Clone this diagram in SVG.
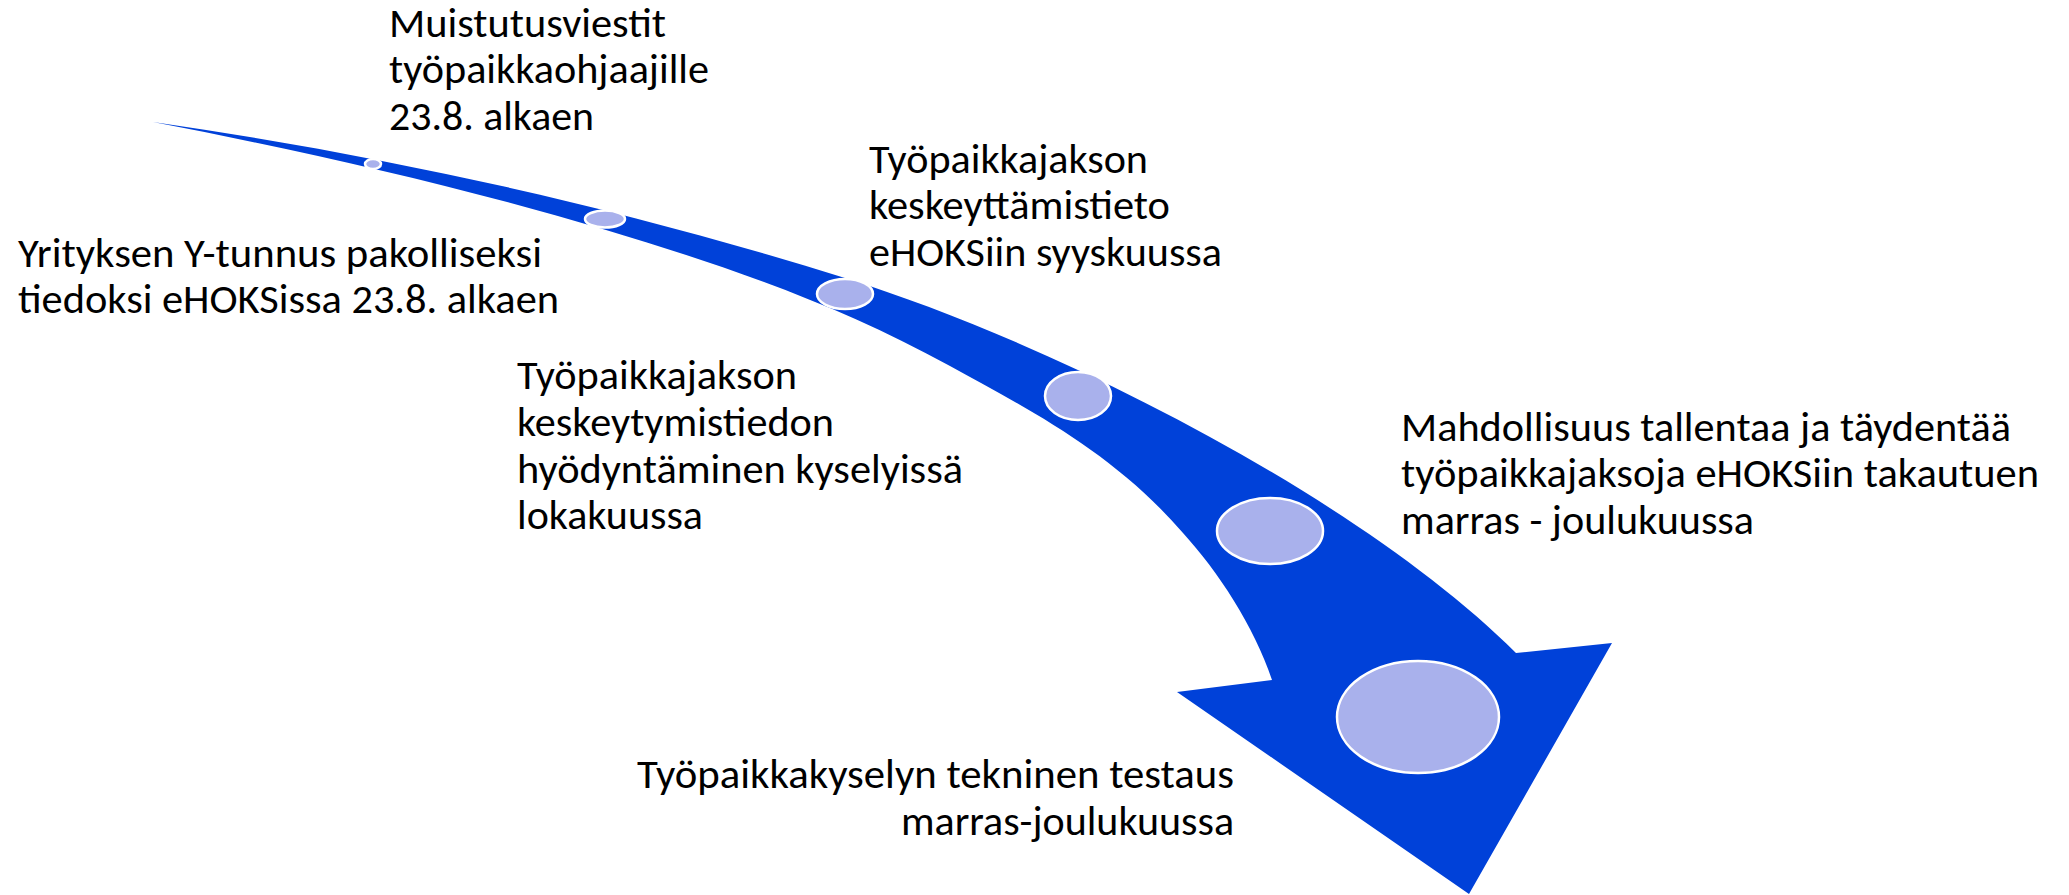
<svg xmlns="http://www.w3.org/2000/svg" width="2069" height="895" viewBox="0 0 2069 895">
<style>
.t{font-family:Carlito,Lato,"Liberation Sans",sans-serif;font-size:40px;fill:#000}
.dot{fill:#A9B1EC;stroke:#fff;stroke-width:2.5}
.band{fill:#0041D9}
</style>
<rect width="2069" height="895" fill="#fff"/>
<g id="arrow">
<path class="band" d="M153,122 C383,155 615,206 845,278 C1065,347 1366,503 1516,653 L1612,643 L1469,894 L1177,692 L1272,680 C1254,626 1218,571.5 1183,533 C1113,452 1028,409 950,366 C835,302.8 721,264.5 606,230 C455,185 304,151 153,122 Z"/>
</g>
<g id="milestones">
<ellipse class="dot" cx="373" cy="164" rx="8" ry="5"/>
<ellipse class="dot" cx="605" cy="219" rx="20" ry="8.5"/>
<ellipse class="dot" cx="845" cy="294" rx="28" ry="15"/>
<ellipse class="dot" cx="1078" cy="396" rx="33" ry="24"/>
<ellipse class="dot" cx="1270" cy="531" rx="53" ry="33"/>
<ellipse class="dot" cx="1418" cy="717" rx="81" ry="56"/>
</g>
<g id="label-muistutus">
<text class="t" x="389" y="37" textLength="277" lengthAdjust="spacingAndGlyphs">Muistutusviestit</text>
<text class="t" x="389" y="83" textLength="320" lengthAdjust="spacingAndGlyphs">työpaikkaohjaajille</text>
<text class="t" x="389" y="130" textLength="205" lengthAdjust="spacingAndGlyphs">23.8. alkaen</text>
</g>
<g id="label-ytunnus">
<text class="t" x="18" y="267" textLength="524" lengthAdjust="spacingAndGlyphs">Yrityksen Y-tunnus pakolliseksi</text>
<text class="t" x="18" y="313" textLength="541" lengthAdjust="spacingAndGlyphs">tiedoksi eHOKSissa 23.8. alkaen</text>
</g>
<g id="label-keskeyttamis">
<text class="t" x="869" y="173" textLength="279" lengthAdjust="spacingAndGlyphs">Työpaikkajakson</text>
<text class="t" x="869" y="219" textLength="301" lengthAdjust="spacingAndGlyphs">keskeyttämistieto</text>
<text class="t" x="869" y="266" textLength="353" lengthAdjust="spacingAndGlyphs">eHOKSiin syyskuussa</text>
</g>
<g id="label-keskeytymis">
<text class="t" x="517" y="389" textLength="280" lengthAdjust="spacingAndGlyphs">Työpaikkajakson</text>
<text class="t" x="517" y="436" textLength="317" lengthAdjust="spacingAndGlyphs">keskeytymistiedon</text>
<text class="t" x="517" y="483" textLength="446" lengthAdjust="spacingAndGlyphs">hyödyntäminen kyselyissä</text>
<text class="t" x="517" y="529" textLength="186" lengthAdjust="spacingAndGlyphs">lokakuussa</text>
</g>
<g id="label-mahdollisuus">
<text class="t" x="1401" y="441" textLength="610" lengthAdjust="spacingAndGlyphs">Mahdollisuus tallentaa ja täydentää</text>
<text class="t" x="1401" y="487" textLength="638" lengthAdjust="spacingAndGlyphs">työpaikkajaksoja eHOKSiin takautuen</text>
<text class="t" x="1401" y="534" textLength="353" lengthAdjust="spacingAndGlyphs">marras - joulukuussa</text>
</g>
<g id="label-testaus">
<text class="t" x="1234" y="788" text-anchor="end" textLength="597" lengthAdjust="spacingAndGlyphs">Työpaikkakyselyn tekninen testaus</text>
<text class="t" x="1234" y="835" text-anchor="end" textLength="333" lengthAdjust="spacingAndGlyphs">marras-joulukuussa</text>
</g>
</svg>
